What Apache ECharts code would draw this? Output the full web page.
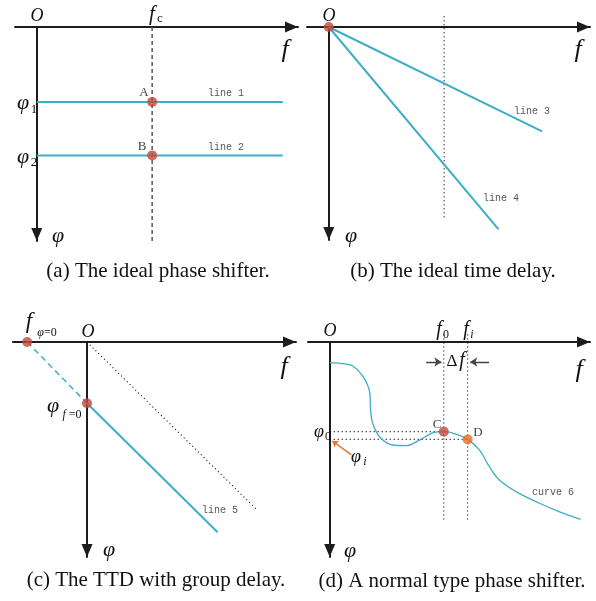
<!DOCTYPE html>
<html>
<head>
<meta charset="utf-8">
<script src="https://cdn.jsdelivr.net/npm/echarts@6/dist/echarts.min.js"></script>
<style>
  html, body { margin: 0; padding: 0; background: #fff; }
  #chart { width: 596px; height: 601px; }
</style>
</head>
<body>
<div id="chart"></div>
<script>
// ---- (a) ideal phase shifter: constant phase over frequency ----
const fc = 5.3;                    // carrier frequency marker
const fcSpan = [0, 10];            // extent of the dashed f_c marker
const phaseLevels = [3.5, 6.0];    // line 1, line 2
const flatEnd = 11.3;              // where line 1 / line 2 stop

// ---- (b) ideal time delay: phase proportional to frequency ----
const probeF = 5.3;
const probeSpan = [-0.5, 9.0];
const line3End = [9.8, 4.9];
const line4End = [7.8, 9.5];

// ---- (c) TTD with group delay ----
const fAtZeroPhase = -2.75;        // f_{phi=0}
const phaseAtZeroF = 2.85;         // phi_{f=0}
const line5End = [6.0, 8.85];
const refLineEnd = [7.8, 7.8];     // dotted reference through O

// ---- (d) normal type phase shifter ----
const curve6F   = [0, 0.70, 1.07, 1.54, 1.85, 1.88, 1.98, 2.31, 2.90, 3.53, 4.14, 4.74, 5.26, 5.83, 6.36, 6.90, 7.36, 7.82, 8.59, 9.65, 10.57, 11.57];
const curve6Phi = [0.96, 1.02, 1.12, 1.61, 2.37, 3.07, 3.77, 4.42, 4.79, 4.82, 4.56, 4.23, 4.17, 4.28, 4.53, 5.02, 5.80, 6.42, 6.96, 7.49, 7.89, 8.25];
const f0 = 5.26, fi = 6.36;
const phi0 = 4.17, phii = 4.53;
const markerSpanD = [-0.35, 8.35];
const deltaArrowPhi = 0.93;
const deltaArrowLeft = [4.45, 5.15];
const deltaArrowRight = [7.35, 6.48];
const phiArrowFrom = [1.0, 5.25];
const phiArrowTo = [0.12, 4.6];

// ---- colours ----
const AXIS = '#1c1c1c', TEAL = '#3eaec6', RED = '#c4483b', ORANGE = '#ee6b23', DOT = '#000';

const SERIF = "'Liberation Serif', 'DejaVu Serif', serif";
const MONO = "'Liberation Mono', 'DejaVu Sans Mono', monospace";

const grids = [
  { left: 15,  top: 27,  width: 283, height: 214 },
  { left: 307, top: 27,  width: 283, height: 213 },
  { left: 13,  top: 342, width: 283, height: 215 },
  { left: 308, top: 342, width: 282, height: 215 }
];
const xRanges = [[-1, 12], [-1, 12], [-3.4, 9.6], [-1, 12]];

const ARROW = [11, 13];
const xAxes = xRanges.map((r, i) => ({
  type: 'value', gridIndex: i, min: r[0], max: r[1],
  axisLine: {
    onZero: true, lineStyle: { color: AXIS, width: 2 },
    symbol: ['none', 'triangle'], symbolSize: ARROW, symbolOffset: [0, -6.5]
  },
  axisTick: { show: false }, axisLabel: { show: false }, splitLine: { show: false }
}));
// phase grows downward; the arrow sits at the bottom end of the line
const yAxes = grids.map((g, i) => ({
  type: 'value', gridIndex: i, min: 0, max: 10, inverse: true,
  axisLine: {
    onZero: true, lineStyle: { color: AXIS, width: 2 },
    symbol: ['triangle', 'none'], symbolSize: ARROW, symbolOffset: [6.5, 0]
  },
  axisTick: { show: false }, axisLabel: { show: false }, splitLine: { show: false }
}));

function path(i, pts, lineStyle, extra) {
  return Object.assign({
    type: 'line', xAxisIndex: i, yAxisIndex: i, data: pts,
    symbol: 'none', showSymbol: false, clip: false, silent: true, z: 3,
    lineStyle: lineStyle
  }, extra || {});
}
function dots(i, pts, color) {
  return {
    type: 'scatter', xAxisIndex: i, yAxisIndex: i, data: pts,
    symbolSize: 10, itemStyle: { color: color }, clip: false, silent: true, z: 6
  };
}
function arrow(i, from, to, color, width, size) {
  return {
    type: 'lines', coordinateSystem: 'cartesian2d', xAxisIndex: i, yAxisIndex: i,
    data: [{ coords: [from, to] }], symbol: ['none', 'arrow'], symbolSize: size,
    lineStyle: { color: color, width: width, opacity: 1 }, silent: true, z: 5
  };
}

const solidTeal = { color: TEAL, width: 2 };
const dotted = { color: DOT, width: 1.1, type: [1, 3] };

const series = [
  // (a)
  path(0, [[fc, fcSpan[0]], [fc, fcSpan[1]]], { color: '#555', width: 1.5, type: [4, 3] }),
  path(0, [[0, phaseLevels[0]], [flatEnd, phaseLevels[0]]], solidTeal),
  path(0, [[0, phaseLevels[1]], [flatEnd, phaseLevels[1]]], solidTeal),
  dots(0, [[fc, phaseLevels[0]], [fc, phaseLevels[1]]], RED),
  // (b)
  path(1, [[probeF, probeSpan[0]], [probeF, probeSpan[1]]], dotted),
  path(1, [[0, 0], line3End], solidTeal),
  path(1, [[0, 0], line4End], solidTeal),
  dots(1, [[0, 0]], RED),
  // (c)
  path(2, [[0, 0], refLineEnd], dotted),
  path(2, [[fAtZeroPhase, 0], [0, phaseAtZeroF]], { color: TEAL, width: 1.5, type: [6, 4] }),
  path(2, [[0, phaseAtZeroF], line5End], solidTeal),
  dots(2, [[fAtZeroPhase, 0], [0, phaseAtZeroF]], RED),
  // (d)
  path(3, [[f0, markerSpanD[0]], [f0, markerSpanD[1]]], dotted),
  path(3, [[fi, markerSpanD[0]], [fi, markerSpanD[1]]], dotted),
  path(3, [[0, phi0], [f0, phi0]], dotted),
  path(3, [[0, phii], [fi, phii]], dotted),
  path(3, curve6F.map((f, k) => [f, curve6Phi[k]]), { color: TEAL, width: 1.3 }, { smooth: 0.35, z: 4 }),
  arrow(3, [deltaArrowLeft[0], deltaArrowPhi], [deltaArrowLeft[1], deltaArrowPhi], '#444', 1.3, 7),
  arrow(3, [deltaArrowRight[0], deltaArrowPhi], [deltaArrowRight[1], deltaArrowPhi], '#444', 1.3, 7),
  arrow(3, phiArrowFrom, phiArrowTo, ORANGE, 1.3, 6),
  dots(3, [[f0, phi0]], RED),
  dots(3, [[fi, phii]], ORANGE)
];

// ---- text ----
function t(x, y, text, size, opts) {
  opts = opts || {};
  const style = {
    text: text,
    font: (opts.italic ? 'italic ' : '') + size + 'px ' + (opts.family || SERIF),
    fill: opts.color || '#111',
    align: opts.align || 'center',
    verticalAlign: 'middle'
  };
  if (opts.rich) style.rich = opts.rich;
  return { type: 'text', x: x, y: y, z: 20, silent: true, style: style };
}
const it = { italic: true };
const small = { color: '#444' };
const mono = { family: MONO, color: '#555' };
const subRich = {
  i: { font: 'italic 12px ' + SERIF, fill: '#111' },
  n: { font: '12px ' + SERIF, fill: '#111' }
};

const texts = [
  // (a)
  t(37, 16, 'O', 18, it),
  t(152, 14, 'f', 21, it), t(160, 19, 'c', 13),
  t(285, 50, 'f', 26, it),
  t(58, 236, 'φ', 22, it),
  t(23, 103, 'φ', 22, it), t(34, 110, '1', 13),
  t(23, 157, 'φ', 22, it), t(34, 163, '2', 13),
  t(144, 93, 'A', 13, small), t(142, 147, 'B', 13, small),
  t(226, 93, 'line 1', 10, mono), t(226, 147, 'line 2', 10, mono),
  t(158, 271, '(a) The ideal phase shifter.', 21),
  // (b)
  t(329, 16, 'O', 18, it),
  t(578, 50, 'f', 26, it),
  t(351, 236, 'φ', 22, it),
  t(532, 111, 'line 3', 10, mono), t(501, 198, 'line 4', 10, mono),
  t(453, 271, '(b) The ideal time delay.', 21),
  // (c)
  t(29, 322, 'f', 23, it), t(47, 333, '{i|φ}{n|=0}', 12, { rich: subRich }),
  t(88, 332, 'O', 18, it),
  t(53, 406, 'φ', 22, it), t(72, 415, '{i|f} {n|=0}', 12, { rich: subRich }),
  t(284, 367, 'f', 26, it),
  t(109, 550, 'φ', 22, it),
  t(220, 510, 'line 5', 10, mono),
  t(156, 580, '(c) The TTD with group delay.', 21),
  // (d)
  t(330, 331, 'O', 18, it),
  t(439, 330, 'f', 20, it), t(446, 335, '0', 12),
  t(466, 330, 'f', 20, it), t(472, 335, 'i', 12, it),
  t(452, 362, 'Δ', 17), t(462, 361, 'f', 20, it),
  t(319, 432, 'φ', 18, it), t(328, 437, '0', 12),
  t(356, 457, 'φ', 18, it), t(365, 462, 'i', 12, it),
  t(437, 425, 'C', 13, small), t(478, 433, 'D', 13, small),
  t(553, 492, 'curve 6', 10, mono),
  t(579, 370, 'f', 26, it),
  t(350, 551, 'φ', 22, it),
  t(452, 581, '(d) A normal type phase shifter.', 21)
];

const chart = echarts.init(document.getElementById('chart'));
chart.setOption({
  animation: false,
  backgroundColor: '#fff',
  grid: grids,
  xAxis: xAxes,
  yAxis: yAxes,
  series: series,
  graphic: texts
});
</script>
</body>
</html>
